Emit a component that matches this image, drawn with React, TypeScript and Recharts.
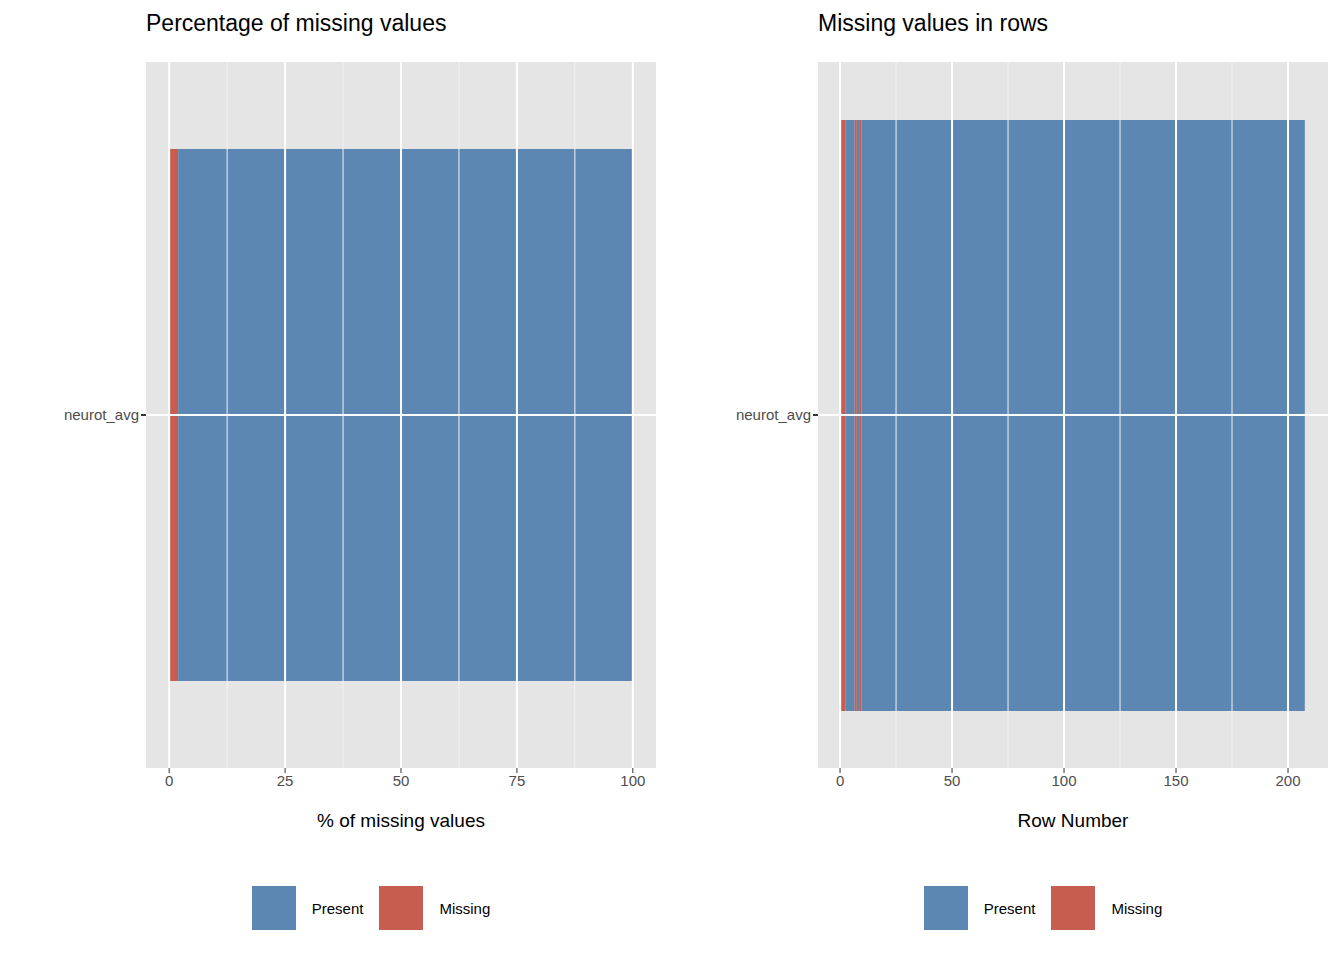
import React from 'react';
import { Bar, ComposedChart, ReferenceLine, XAxis, YAxis } from 'recharts';

const variableName = 'neurot_avg';
const totalRows = 207;
const missingRows = [1, 2, 7, 9];
const pctMissing = (missingRows.length / totalRows) * 100;

const pctTicks = [0, 25, 50, 75, 100];
const pctMinor = [12.5, 37.5, 62.5, 87.5];
const rowTicks = [0, 50, 100, 150, 200];
const rowMinor = [25, 75, 125, 175];

const PRESENT = '#5B87B2';
const MISSING = '#C75D4F';
const BG = '#E5E5E5';
const FONT = '"Liberation Sans", Arial, sans-serif';

type Seg = { key: string; len: number; color: string };

// segments for the row panel: runs of present / missing rows
function rowSegments(): Seg[] {
  const segs: Seg[] = [{ key: 'off', len: 0.5, color: 'transparent' }];
  let r = 1;
  while (r <= totalRows) {
    const miss = missingRows.includes(r);
    let n = 0;
    while (r <= totalRows && missingRows.includes(r) === miss) {
      n++;
      r++;
    }
    segs.push({ key: `s${segs.length}`, len: n, color: miss ? MISSING : PRESENT });
  }
  return segs;
}

const pctSegs: Seg[] = [
  { key: 'miss', len: pctMissing, color: MISSING },
  { key: 'pres', len: 100 - pctMissing, color: PRESENT },
];

function Panel({ left, title, xLabel, segs, domain, ticks, minor, barSize }: {
  left: number; title: string; xLabel: string; segs: Seg[];
  domain: [number, number]; ticks: number[]; minor: number[]; barSize: number;
}) {
  const row: Record<string, any> = { name: variableName };
  segs.forEach((s) => (row[s.key] = s.len));
  const tickStyle = { fill: '#4D4D4D', fontSize: 15, fontFamily: FONT };
  return (
    <div style={{ position: 'absolute', left, top: 0, width: 672, height: 960 }}>
      <div style={{ position: 'absolute', left: 146, top: 10, fontSize: 23, color: '#000', fontFamily: FONT }}>{title}</div>
      <ComposedChart width={672} height={800} layout="vertical" data={[row]}
        margin={{ top: 62, right: 16, left: 0, bottom: 0 }} barCategoryGap={0}>
        <rect x={146} y={62} width={510} height={706} fill={BG} />
        {minor.map((v) => <ReferenceLine key={`m${v}`} x={v} stroke="#F2F2F2" strokeWidth={1} />)}
        {ticks.map((v) => <ReferenceLine key={`t${v}`} x={v} stroke="#FFFFFF" strokeWidth={2} />)}
        <ReferenceLine y={variableName} stroke="#FFFFFF" strokeWidth={2} />
        <XAxis type="number" domain={domain} ticks={ticks} allowDataOverflow height={32}
          axisLine={false} tickLine={{ stroke: '#333' }} tickSize={5} tick={tickStyle} />
        <YAxis type="category" dataKey="name" width={146} axisLine={false}
          tickLine={{ stroke: '#333', strokeWidth: 2 }} tickSize={5} tick={tickStyle} />
        {segs.map((s) => (
          <Bar key={s.key} dataKey={s.key} stackId="a" fill={s.color} barSize={barSize} isAnimationActive={false} />
        ))}
      </ComposedChart>
      <div style={{ position: 'absolute', left: 146, width: 510, top: 810, textAlign: 'center', fontSize: 19, fontFamily: FONT }}>{xLabel}</div>
      <div style={{ position: 'absolute', left: 146, width: 510, top: 886, display: 'flex', justifyContent: 'center', alignItems: 'center', fontSize: 15, fontFamily: FONT }}>
        <div style={{ width: 44, height: 44, background: PRESENT }} />
        <span style={{ marginLeft: 16, marginRight: 16 }}>Present</span>
        <div style={{ width: 44, height: 44, background: MISSING }} />
        <span style={{ marginLeft: 16, marginRight: 60 }}>Missing</span>
      </div>
    </div>
  );
}

export default function App() {
  const rowSpan = totalRows;
  return (
    <div style={{ position: 'absolute', left: 0, top: 0, width: 1344, height: 960, background: '#fff' }}>
      <Panel left={0} title="Percentage of missing values" xLabel="% of missing values" segs={pctSegs}
        domain={[-5, 105]} ticks={pctTicks} minor={pctMinor} barSize={532} />
      <Panel left={672} title="Missing values in rows" xLabel="Row Number" segs={rowSegments()}
        domain={[0.5 - rowSpan * 0.05, 0.5 + rowSpan * 1.05]} ticks={rowTicks} minor={rowMinor} barSize={591} />
    </div>
  );
}
